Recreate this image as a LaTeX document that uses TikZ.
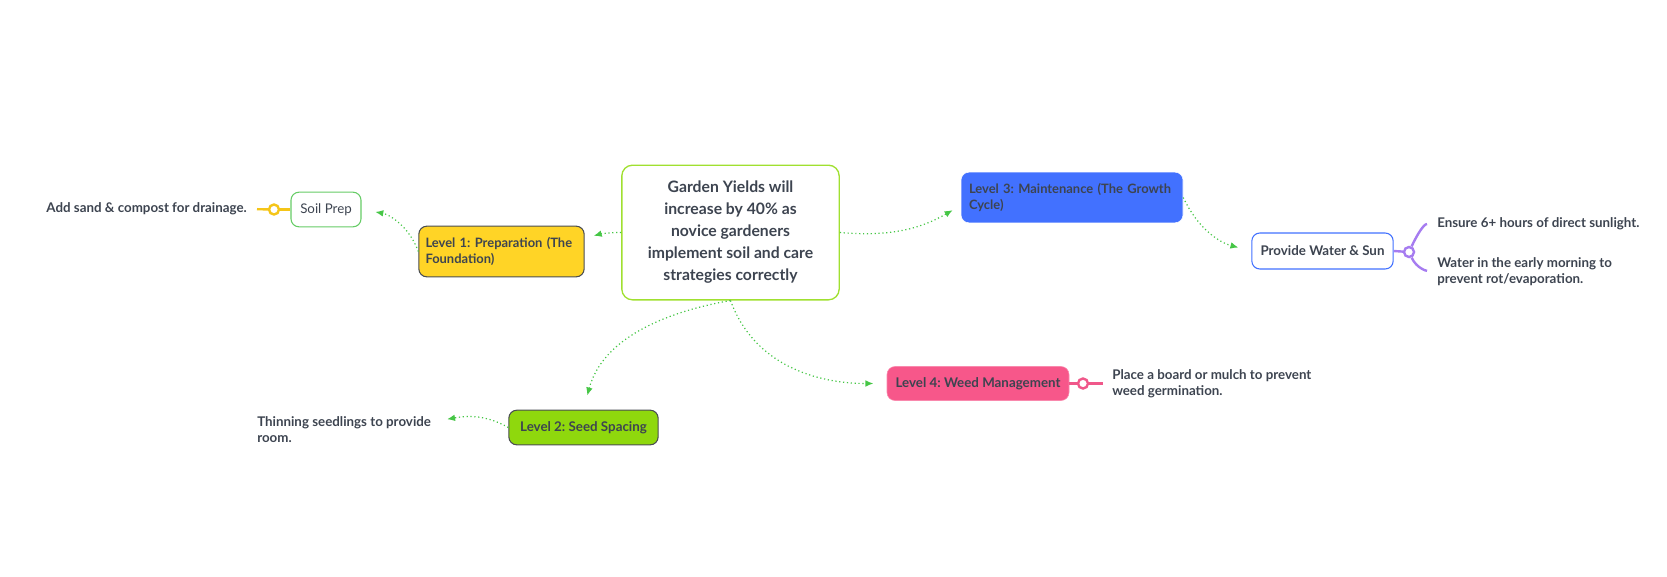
\documentclass[tikz,border=0pt]{standalone}
\usepackage{fontspec}
\setmainfont{Lato}
\usepackage{xcolor}
\usetikzlibrary{arrows.meta,positioning}

\definecolor{inkgray}{HTML}{3D4450}
\definecolor{edgegray}{HTML}{4A4D52}
\definecolor{topicgreen}{HTML}{A0E030}
\definecolor{linkgreen}{HTML}{46C646}
\definecolor{soilgreen}{HTML}{66CC66}
\definecolor{prepyellow}{HTML}{FFD426}
\definecolor{seedgreen}{HTML}{8FD80D}
\definecolor{careblue}{HTML}{4271FF}
\definecolor{weedpink}{HTML}{F7578A}
\definecolor{stemyellow}{HTML}{F5C518}
\definecolor{stempurple}{HTML}{A67CF0}
\definecolor{stempink}{HTML}{F0588A}

\begin{document}
\frenchspacing
\begin{tikzpicture}[
  x=0.75pt, y=0.75pt,
  >={Latex[length=6pt,width=5pt]},
  topic/.style={draw=topicgreen, line width=1pt, fill=white, rounded corners=8pt,
    minimum width=163pt, minimum height=101pt, align=center, text=inkgray,
    font=\bfseries\fontsize{11.8}{16.5}\selectfont},
  level/.style={rounded corners=6pt, text=inkgray, inner xsep=5pt,
    font=\bfseries\fontsize{9.7}{12}\selectfont},
  sub/.style={draw, fill=white, line width=0.8pt, rounded corners=6pt, text=inkgray},
  leaf/.style={inner sep=0pt, align=left, text=inkgray,
    font=\bfseries\fontsize{10}{12}\selectfont},
  knot/.style={circle, draw, fill=white, line width=1.8pt, minimum size=7.5pt, inner sep=0pt},
  stem/.style={line width=1.8pt},
  link/.style={->, draw=linkgreen, dotted, line width=0.9pt},
]
\useasboundingbox (0,0) rectangle (1667,-576);
% nodes
\node[topic] (goal) at (730.5,-232.5)
  {Garden Yields will\\increase by 40\% as\\novice gardeners\\implement soil and care\\strategies correctly};
\node[level, fill=prepyellow, draw=edgegray, line width=0.8pt, text width=114pt,
  minimum height=38pt, align=left] (prep) at (501.5,-251.5)
  {Level 1: Preparation (The\\Foundation)};
\node[sub, draw=soilgreen, minimum width=52.5pt, minimum height=26pt,
  font=\fontsize{10}{12}\selectfont] (soil) at (326,-209.5) {Soil Prep};
\node[level, fill=careblue, draw=white, inner xsep=6pt, text width=154.5pt,
  minimum height=38pt, align=left] (care) at (1072,-197.5)
  {Level 3: Maintenance (The Growth\\Cycle)};
\node[sub, draw=careblue, minimum width=106pt, minimum height=27pt,
  font=\bfseries\fontsize{10}{12}\selectfont] (sun) at (1322.5,-251) {Provide Water \& Sun};
\node[level, fill=seedgreen, draw=edgegray, line width=0.8pt, inner xsep=3pt,
  minimum width=112pt, minimum height=26pt, font=\bfseries\fontsize{10}{12}\selectfont]
  (seed) at (583.5,-427.5) {Level 2: Seed Spacing};
\node[level, fill=weedpink, draw=weedpink!70!white, inner xsep=3pt, minimum width=136.5pt,
  minimum height=25.5pt, font=\bfseries\fontsize{10}{12}\selectfont]
  (weed) at (978,-383.5) {Level 4: Weed Management};
% leaves
\node[leaf, anchor=east] (soiltip) at (247,-209) {Add sand \& compost for drainage.};
\node[leaf, anchor=west] (suntip) at (1437,-224) {Ensure 6+ hours of direct sunlight.};
\node[leaf, anchor=west] (watertip) at (1437,-271.5)
  {Water in the early morning to\\prevent rot/evaporation.};
\node[leaf, anchor=west] (thintip) at (257,-430) {Thinning seedlings to provide\\room.};
\node[leaf, anchor=west] (weedtip) at (1112,-383.5)
  {Place a board or mulch to prevent\\weed germination.};
\node[knot, draw=stemyellow] (soilknot) at (274,-209.5) {};
\node[knot, draw=stempurple] (sunknot) at (1409,-252) {};
\node[knot, draw=stempink] (weedknot) at (1083,-383.5) {};
% stems
\draw[stem, stemyellow] (soil.west) -- (soilknot);
\draw[stem, stemyellow, shorten >=7.5pt] (soilknot) -- (soiltip.east);
\draw[stem, stempurple] (sun.east) -- (sunknot);
\draw[stem, stempurple, shorten >=7.5pt] (sunknot) to[out=65,in=180] (suntip.west);
\draw[stem, stempurple, shorten >=7.5pt] (sunknot) to[out=-65,in=180] ([yshift=0.5pt]watertip.west);
\draw[stem, stempink] (weed.east) -- (weedknot);
\draw[stem, stempink, shorten >=7pt] (weedknot) -- (weedtip.west);
% edges
\draw[link, shorten >=7pt] (goal.west) to[out=180,in=15] ([yshift=10pt]prep.east);
\draw[link, shorten >=10.5pt] (prep.west) to[out=110,in=-10] (soil.east);
\draw[link, shorten >=7pt] (goal.east) to[out=-5,in=210] ([yshift=-6pt]care.west);
\draw[link, shorten >=10pt] (care.east) to[out=-65,in=165] (sun.west);
\draw[link, shorten >=11pt] (goal.south) to[out=190,in=75] (seed.north);
\draw[link, shorten >=10pt] (goal.south) to[out=-70,in=180] (weed.west);
\draw[link, shorten >=12pt] (seed.west) to[out=150,in=10] ([yshift=6pt]thintip.east);
\end{tikzpicture}
\end{document}
